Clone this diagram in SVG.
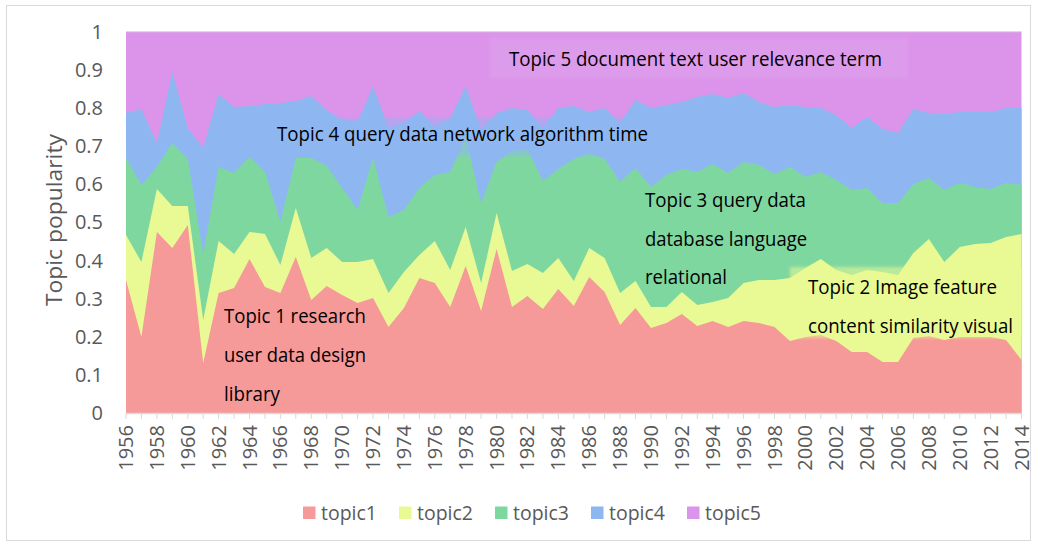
<svg xmlns="http://www.w3.org/2000/svg" width="1037" height="546" viewBox="0 0 1037 546">
<style>
.tick{font-family:"Open Sans","Liberation Sans",sans-serif;font-size:20px;fill:#595959}
.lbl{font-family:"Open Sans","Liberation Sans",sans-serif;font-size:19.5px;fill:#000}
.leg{font-family:"Open Sans","Liberation Sans",sans-serif;font-size:19.5px;fill:#595959}
.t1{fill:#F69999}.t2{fill:#E9FA94}.t3{fill:#7FD7A0}.t4{fill:#8EB7F2}.t5{fill:#DB94EA}
.tk{stroke:#D9D9D9;stroke-width:1}
</style>
<defs>
<filter id="soft" x="-5%" y="-20%" width="110%" height="140%"><feGaussianBlur stdDeviation="1.5"/></filter>
</defs>
<rect x="0" y="0" width="1037" height="546" fill="#fff"/>
<rect x="6.5" y="5.5" width="1024" height="535" fill="none" stroke="#D9D9D9" stroke-width="1"/>
<g id="areas">
<rect class="t5" x="126" y="31.7" width="895.5" height="381.3"/>
<polygon class="t4" points="126,413 126,113 141.4,109 156.9,143 172.3,72 187.8,128 203.2,148 218.6,94 234.1,107 249.5,106 265,104 280.4,103 295.8,101 311.3,96 326.7,110 342.2,120 357.6,122 373,86 388.5,128 403.9,123 419.4,111 434.8,127 450.2,118 465.7,86 481.1,130 496.6,113 512,108 527.4,110 542.9,128 558.3,108 573.8,106 589.2,112 604.6,108 620.1,123 635.5,100 651,108 666.4,105 681.8,102 697.3,97 712.7,94 728.2,98 743.6,93 759,102 774.5,107 789.9,105 805.4,107 820.8,108 836.2,115 851.7,128 867.1,117 882.6,129 898,133 913.4,109 928.9,113 944.3,114 959.8,112 975.2,112 990.6,112 1006.1,108 1021.5,108 1021.5,413"/>
<polygon class="t3" points="126,413 126,158 141.4,185 156.9,167 172.3,143 187.8,159 203.2,254 218.6,167 234.1,173 249.5,157 265,172 280.4,222 295.8,158 311.3,158 326.7,166 342.2,188 357.6,210 373,158 388.5,217 403.9,210 419.4,188 434.8,175 450.2,172 465.7,138 481.1,203 496.6,162 512,151 527.4,149 542.9,181 558.3,169 573.8,159 589.2,153 604.6,159 620.1,182 635.5,168 651,187 666.4,175 681.8,169 697.3,172 712.7,164 728.2,173 743.6,162 759,165 774.5,174 789.9,167 805.4,177 820.8,172 836.2,180 851.7,190 867.1,188 882.6,203 898,203 913.4,184 928.9,178 944.3,190 959.8,183 975.2,187 990.6,189 1006.1,183 1021.5,185 1021.5,413"/>
<polygon class="t2" points="126,413 126,235 141.4,262 156.9,189 172.3,206 187.8,206 203.2,320 218.6,241 234.1,254 249.5,232 265,234 280.4,265 295.8,208 311.3,258 326.7,248 342.2,262 357.6,262 373,259 388.5,293 403.9,272 419.4,255 434.8,241 450.2,270 465.7,227 481.1,283 496.6,213 512,271 527.4,264 542.9,273 558.3,258 573.8,281 589.2,248 604.6,258 620.1,293 635.5,281 651,307 666.4,307 681.8,292 697.3,305 712.7,302 728.2,298 743.6,283 759,280 774.5,280 789.9,278 805.4,268 820.8,259 836.2,270 851.7,275 867.1,270 882.6,272 898,275 913.4,253 928.9,239 944.3,262 959.8,247 975.2,244 990.6,243 1006.1,237 1021.5,234 1021.5,413"/>
<polygon class="t1" points="126,413 126,280 141.4,337 156.9,232 172.3,248 187.8,225 203.2,363 218.6,293 234.1,288 249.5,259 265,287 280.4,293 295.8,257 311.3,300 326.7,286 342.2,295 357.6,303 373,298 388.5,327 403.9,308 419.4,278 434.8,283 450.2,307 465.7,266 481.1,311 496.6,249 512,307 527.4,296 542.9,309 558.3,289 573.8,306 589.2,277 604.6,292 620.1,325 635.5,308 651,328 666.4,323 681.8,314 697.3,326 712.7,321 728.2,327 743.6,321 759,323 774.5,327 789.9,341 805.4,337 820.8,335 836.2,341 851.7,352 867.1,352 882.6,362 898,362 913.4,338 928.9,336 944.3,340 959.8,337 975.2,337 990.6,337 1006.1,340 1021.5,360 1021.5,413"/>
<line x1="126" y1="31.7" x2="1021.5" y2="31.7" stroke="#D9D9D9" stroke-width="1"/>
</g>
<g id="axis-x">
<line x1="126" y1="413.5" x2="1021.5" y2="413.5" stroke="#D9D9D9" stroke-width="1.5"/>
<path class="tk" d="M126,413V419M141.4,413V419M156.9,413V419M172.3,413V419M187.8,413V419M203.2,413V419M218.6,413V419M234.1,413V419M249.5,413V419M265,413V419M280.4,413V419M295.8,413V419M311.3,413V419M326.7,413V419M342.2,413V419M357.6,413V419M373,413V419M388.5,413V419M403.9,413V419M419.4,413V419M434.8,413V419M450.2,413V419M465.7,413V419M481.1,413V419M496.6,413V419M512,413V419M527.4,413V419M542.9,413V419M558.3,413V419M573.8,413V419M589.2,413V419M604.6,413V419M620.1,413V419M635.5,413V419M651,413V419M666.4,413V419M681.8,413V419M697.3,413V419M712.7,413V419M728.2,413V419M743.6,413V419M759,413V419M774.5,413V419M789.9,413V419M805.4,413V419M820.8,413V419M836.2,413V419M851.7,413V419M867.1,413V419M882.6,413V419M898,413V419M913.4,413V419M928.9,413V419M944.3,413V419M959.8,413V419M975.2,413V419M990.6,413V419M1006.1,413V419M1021.5,413V419"/>
<g class="tick" text-anchor="end">
<text transform="translate(133,425) rotate(-90)">1956</text>
<text transform="translate(163.9,425) rotate(-90)">1958</text>
<text transform="translate(194.8,425) rotate(-90)">1960</text>
<text transform="translate(225.6,425) rotate(-90)">1962</text>
<text transform="translate(256.5,425) rotate(-90)">1964</text>
<text transform="translate(287.4,425) rotate(-90)">1966</text>
<text transform="translate(318.3,425) rotate(-90)">1968</text>
<text transform="translate(349.2,425) rotate(-90)">1970</text>
<text transform="translate(380,425) rotate(-90)">1972</text>
<text transform="translate(410.9,425) rotate(-90)">1974</text>
<text transform="translate(441.8,425) rotate(-90)">1976</text>
<text transform="translate(472.7,425) rotate(-90)">1978</text>
<text transform="translate(503.6,425) rotate(-90)">1980</text>
<text transform="translate(534.4,425) rotate(-90)">1982</text>
<text transform="translate(565.3,425) rotate(-90)">1984</text>
<text transform="translate(596.2,425) rotate(-90)">1986</text>
<text transform="translate(627.1,425) rotate(-90)">1988</text>
<text transform="translate(658,425) rotate(-90)">1990</text>
<text transform="translate(688.8,425) rotate(-90)">1992</text>
<text transform="translate(719.7,425) rotate(-90)">1994</text>
<text transform="translate(750.6,425) rotate(-90)">1996</text>
<text transform="translate(781.5,425) rotate(-90)">1998</text>
<text transform="translate(812.4,425) rotate(-90)">2000</text>
<text transform="translate(843.2,425) rotate(-90)">2002</text>
<text transform="translate(874.1,425) rotate(-90)">2004</text>
<text transform="translate(905,425) rotate(-90)">2006</text>
<text transform="translate(935.9,425) rotate(-90)">2008</text>
<text transform="translate(966.8,425) rotate(-90)">2010</text>
<text transform="translate(997.6,425) rotate(-90)">2012</text>
<text transform="translate(1028.5,425) rotate(-90)">2014</text>
</g>
</g>
<g id="axis-y" class="tick" text-anchor="end">
<text x="103" y="420">0</text>
<text x="103" y="381.9">0.1</text>
<text x="103" y="343.7">0.2</text>
<text x="103" y="305.6">0.3</text>
<text x="103" y="267.5">0.4</text>
<text x="103" y="229.4">0.5</text>
<text x="103" y="191.2">0.6</text>
<text x="103" y="153.1">0.7</text>
<text x="103" y="115">0.8</text>
<text x="103" y="76.8">0.9</text>
<text x="103" y="38.7">1</text>
<text class="tick" style="font-size:22px" transform="translate(62,220) rotate(-90)" text-anchor="middle" textLength="172" lengthAdjust="spacingAndGlyphs">Topic popularity</text>
</g>
<g id="label-topic5">
<rect x="490" y="38" width="418" height="40" fill="#fff" opacity="0.07" filter="url(#soft)"/>
<text class="lbl" x="509" y="66" textLength="373" lengthAdjust="spacingAndGlyphs">Topic 5 document text user relevance term</text>
</g>
<g id="label-topic4">
<rect x="262" y="118" width="402" height="38" fill="#8EB7F2" opacity="0.5" filter="url(#soft)"/>
<text class="lbl" x="277" y="141" textLength="371" lengthAdjust="spacingAndGlyphs">Topic 4 query data network algorithm time</text>
</g>
<g id="label-topic3">
<text class="lbl" x="645" y="207" textLength="161" lengthAdjust="spacingAndGlyphs">Topic 3 query data</text>
<text class="lbl" x="645" y="245.5" textLength="162" lengthAdjust="spacingAndGlyphs">database language</text>
<text class="lbl" x="645" y="284" textLength="82" lengthAdjust="spacingAndGlyphs">relational</text>
</g>
<g id="label-topic2">
<rect x="790" y="267" width="232" height="71" fill="#E9FA94" opacity="0.55" filter="url(#soft)"/>
<text class="lbl" x="808" y="294" textLength="189" lengthAdjust="spacingAndGlyphs">Topic 2 Image feature</text>
<text class="lbl" x="808" y="333" textLength="205" lengthAdjust="spacingAndGlyphs">content similarity visual</text>
</g>
<g id="label-topic1">
<text class="lbl" x="224" y="322.5" textLength="142" lengthAdjust="spacingAndGlyphs">Topic 1 research</text>
<text class="lbl" x="224" y="361.5" textLength="142" lengthAdjust="spacingAndGlyphs">user data design</text>
<text class="lbl" x="224" y="400.5" textLength="56" lengthAdjust="spacingAndGlyphs">library</text>
</g>
<g id="legend">
<rect class="t1" x="303" y="506.5" width="12.5" height="12.5"/>
<text class="leg" x="321" y="520" textLength="56" lengthAdjust="spacingAndGlyphs">topic1</text>
<rect class="t2" x="399" y="506.5" width="12.5" height="12.5"/>
<text class="leg" x="417" y="520" textLength="56" lengthAdjust="spacingAndGlyphs">topic2</text>
<rect class="t3" x="495" y="506.5" width="12.5" height="12.5"/>
<text class="leg" x="513" y="520" textLength="56" lengthAdjust="spacingAndGlyphs">topic3</text>
<rect class="t4" x="591" y="506.5" width="12.5" height="12.5"/>
<text class="leg" x="609" y="520" textLength="56" lengthAdjust="spacingAndGlyphs">topic4</text>
<rect class="t5" x="687" y="506.5" width="12.5" height="12.5"/>
<text class="leg" x="705" y="520" textLength="56" lengthAdjust="spacingAndGlyphs">topic5</text>
</g>
</svg>
